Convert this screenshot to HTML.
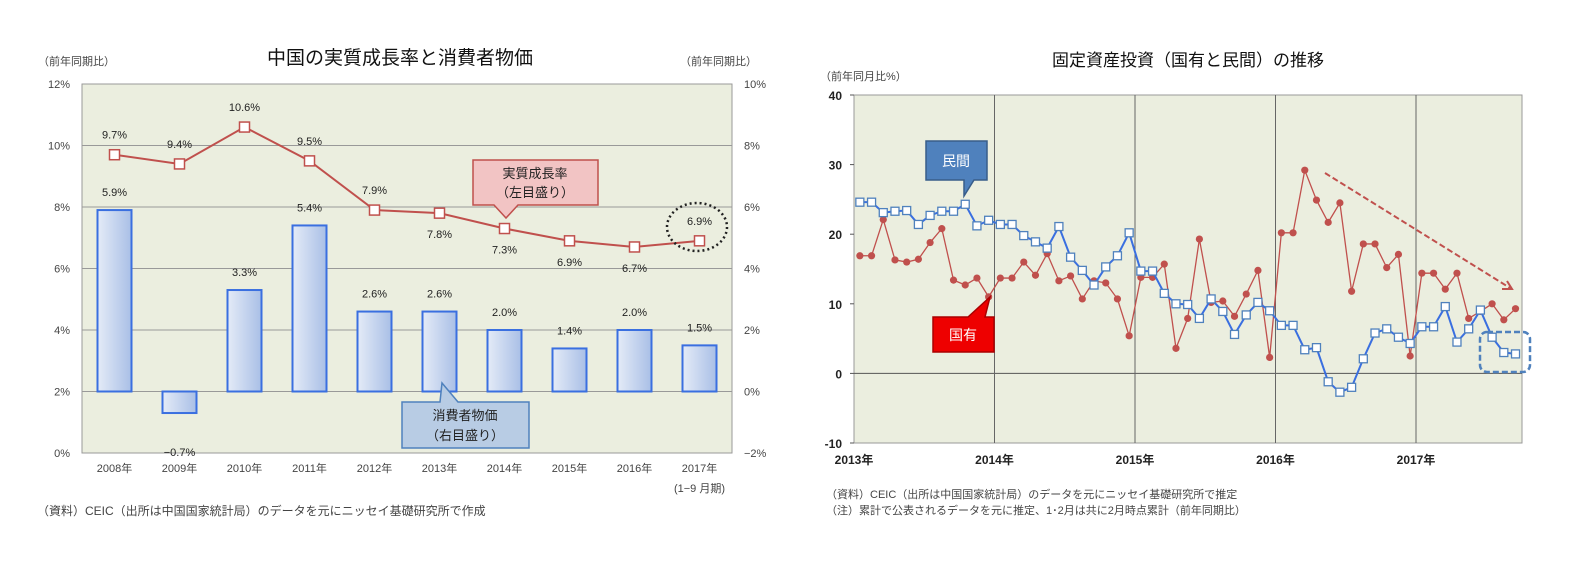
<!DOCTYPE html>
<html><head><meta charset="utf-8">
<style>
body{margin:0;background:#fff;width:1570px;height:562px;overflow:hidden;font-family:"Liberation Sans","Noto Sans CJK JP",sans-serif}
svg text{font-family:"Liberation Sans","Noto Sans CJK JP",sans-serif}
</style></head>
<body>
<svg id="s" width="1570" height="562">
<!-- Left chart -->
<g>
<text x="400" y="64" font-size="19" text-anchor="middle" fill="#111">中国の実質成長率と消費者物価</text>
<text x="38" y="65" font-size="11" fill="#444">（前年同期比）</text>
<text x="680" y="65" font-size="11" fill="#444">（前年同期比）</text>
<rect x="82" y="84" width="650" height="369" fill="#ebeedf" stroke="#999"/>
<g id="lgrid"></g><g id="lbars"></g><g id="lline"></g><g id="llabels"></g>
<text x="37" y="515" font-size="12" fill="#444">（資料）CEIC（出所は中国国家統計局）のデータを元にニッセイ基礎研究所で作成</text>
<g>
<path d="M473 160 H598 V205 H518 L506 218 L494 205 H473 Z" fill="#f2c4c4" stroke="#c0504d" stroke-width="1.5"/>
<text x="535" y="178" font-size="13" text-anchor="middle" fill="#222">実質成長率</text>
<text x="535" y="197" font-size="13" text-anchor="middle" fill="#222">（左目盛り）</text>
</g>
<g>
<path d="M402 402 H440 L442 383 L458 402 H529 V448 H402 Z" fill="#b8cce4" stroke="#4f81bd" stroke-width="1.5"/>
<text x="465" y="420" font-size="13" text-anchor="middle" fill="#222">消費者物価</text>
<text x="465" y="440" font-size="13" text-anchor="middle" fill="#222">（右目盛り）</text>
</g>
<ellipse cx="697" cy="227" rx="30" ry="24" fill="none" stroke="#222" stroke-width="2.5" stroke-dasharray="2,3"/>
</g>
<!-- Right chart -->
<g>
<text x="1188" y="66" font-size="17" text-anchor="middle" fill="#111">固定資産投資（国有と民間）の推移</text>
<text x="820" y="80" font-size="11" fill="#444">（前年同月比%）</text>
<rect x="854" y="95" width="668" height="348" fill="#ebeedf" stroke="#999"/>
<g id="rgrid"></g><g id="rlines"></g>
<path d="M1325 173 L1510 288" stroke="#c0504d" stroke-width="2" stroke-dasharray="6,3" fill="none"/>
<path d="M1502 289 L1512 289 L1507 281" stroke="#c0504d" stroke-width="2" fill="none"/>
<rect x="1480" y="332" width="50" height="40" rx="7" fill="none" stroke="#4f81bd" stroke-width="2.5" stroke-dasharray="6,3"/>
<g>
<path d="M926 141 H987 V180 H974 L964 196 L964 180 H926 Z" fill="#4f81bd" stroke="#385d8a" stroke-width="1.5"/>
<text x="956" y="166" font-size="14" text-anchor="middle" fill="#fff">民間</text>
</g>
<g>
<path d="M933 317 H968 L990 297 L985 317 H994 V352 H933 Z" fill="#e00" stroke="#a00" stroke-width="1.5"/>
<text x="963" y="340" font-size="14" text-anchor="middle" fill="#fff">国有</text>
</g>
<text x="826" y="498" font-size="11" fill="#444">（資料）CEIC（出所は中国国家統計局）のデータを元にニッセイ基礎研究所で推定</text>
<text x="826" y="514" font-size="11" fill="#444">（注）累計で公表されるデータを元に推定、1･2月は共に2月時点累計（前年同期比）</text>
</g>
</svg>
<script>
const years=["2008年","2009年","2010年","2011年","2012年","2013年","2014年","2015年","2016年","2017年"];
const gdp=[9.7,9.4,10.6,9.5,7.9,7.8,7.3,6.9,6.7,6.9];
const cpi=[5.9,-0.7,3.3,5.4,2.6,2.6,2.0,1.4,2.0,1.5];
const leftTicks=[0,2,4,6,8,10,12];
const rightTicks=[-2,0,2,4,6,8,10];
const ryears=["2013年","2014年","2015年","2016年","2017年"];
const rTicks=[-10,0,10,20,30,40];
const stateInv=[16.9,16.9,22.1,16.3,16.0,16.4,18.8,20.8,13.4,12.7,13.7,11.0,
13.7,13.7,16.0,14.1,17.2,13.3,14.0,10.7,13.3,13.0,10.7,5.4,
13.8,13.8,15.7,3.6,7.9,19.3,10.2,10.4,8.2,11.4,14.8,2.3,
20.2,20.2,29.2,24.9,21.7,24.5,11.8,18.6,18.6,15.2,17.1,2.5,
14.4,14.4,12.1,14.4,7.9,8.9,10.0,7.7,9.3];
const privInv=[24.6,24.6,23.1,23.3,23.4,21.4,22.7,23.3,23.3,24.3,21.2,22.0,
21.4,21.4,19.8,18.9,18.0,21.1,16.7,14.8,12.7,15.3,16.9,20.2,
14.7,14.7,11.5,10.0,9.9,7.9,10.7,8.9,5.6,8.4,10.2,9.0,
6.9,6.9,3.4,3.7,-1.2,-2.7,-2.0,2.1,5.8,6.4,5.2,4.3,
6.7,6.7,9.6,4.5,6.4,9.1,5.2,3.0,2.8];
const NS="http://www.w3.org/2000/svg";
function mk(p,t,a,txt){const e=document.createElementNS(NS,t);for(const k in a)e.setAttribute(k,a[k]);if(txt!==undefined)e.textContent=txt;p.appendChild(e);return e;}
// left scales
const L={x0:82,w:650,y0:453,y1:84};
const ly=v=>L.y0-(v/12)*(L.y0-L.y1);
const ry=v=>ly(v+2);
const cx=i=>L.x0+L.w/years.length*(i+0.5);
const lg=document.getElementById('lgrid');
leftTicks.forEach(t=>{const y=ly(t);
 if(t>0&&t<12){const g=mk(lg,'line',{x1:82,x2:732,y1:y,y2:y,stroke:'#999','stroke-width':1});}
 const tx=mk(lg,'text',{x:70,y:y+4,'font-size':11,'text-anchor':'end',fill:'#444'},t+'%');
 
 
});
rightTicks.forEach(t=>{const y=ry(t);
 const tx=mk(lg,'text',{x:744,y:y+4,'font-size':11,fill:'#444'},(t<0?'−':'')+Math.abs(t)+'%');
 
 
});
const defs=mk(document.getElementById('s'),'defs',{});
const gr=mk(defs,'linearGradient',{id:'bg',x1:0,y1:0,x2:1,y2:0});
mk(gr,'stop',{offset:'0','stop-color':'#e4ebf7'});mk(gr,'stop',{offset:'1','stop-color':'#a9bfe6'});
const lb=document.getElementById('lbars'),lab=document.getElementById('llabels');
years.forEach((yr,i)=>{
 const x=cx(i),y0=ry(0),y=ry(cpi[i]);
 const r=mk(lb,'rect',{x:x-17,y:Math.min(y,y0),width:34,height:Math.abs(y-y0),fill:'url(#bg)',stroke:'#3a6fe0','stroke-width':2});
 
 
 const ty=cpi[i]>=0?y-10:y+45;
 const t=mk(lab,'text',{x:x,y:cpi[i]>=0?y-14:y+43,'font-size':11,'text-anchor':'middle',fill:'#222'},(cpi[i]<0?'−':'')+Math.abs(cpi[i]).toFixed(1)+'%');
 
 
 const xt=mk(lab,'text',{x:x,y:472,'font-size':11,'text-anchor':'middle',fill:'#444'},yr);
 
 
});
mk(lab,'text',{x:cx(9),y:492,'font-size':11,'text-anchor':'middle',fill:'#444'},'(1−9 月期)');
const ll=document.getElementById('lline');
const pl=mk(ll,'polyline',{points:gdp.map((v,i)=>cx(i)+','+ly(v)).join(' '),fill:'none',stroke:'#c0504d','stroke-width':2});


gdp.forEach((v,i)=>{
 const m=mk(ll,'rect',{x:cx(i)-5,y:ly(v)-5,width:10,height:10,fill:'#fff',stroke:'#c0504d','stroke-width':1.5});
 
 
 const above=i<5||i==9;
 const t=mk(lab,'text',{x:cx(i),y:above?ly(v)-16:ly(v)+25,'font-size':11,'text-anchor':'middle',fill:'#222'},v.toFixed(1)+'%');
 
 
});
// right chart
const R={x0:854,x1:1522,y0:443,y1:95};
const yearW=140.5,mW=yearW/12;
const rY=v=>R.y0-(v+10)/50*(R.y0-R.y1);
const rX=i=>R.x0+mW*(i+0.5);
const rg=document.getElementById('rgrid');
rTicks.forEach(t=>{const y=rY(t);
 if(t===0){const g=mk(rg,'line',{x1:R.x0,x2:R.x1,y1:y,y2:y,stroke:'#555','stroke-width':1});}
 mk(rg,'line',{x1:R.x0-4,x2:R.x0,y1:y,y2:y,stroke:'#555'});
 const tx=mk(rg,'text',{x:842,y:y+5,'font-size':12,'text-anchor':'end',fill:'#222','font-weight':'bold'},t);
 
 
});
ryears.forEach((yr,i)=>{const x=R.x0+yearW*i;
 if(i>0){const g=mk(rg,'line',{x1:x,x2:x,y1:R.y1,y2:R.y0,stroke:'#666','stroke-width':1});}
 const tx=mk(rg,'text',{x:x,y:464,'font-size':12,'text-anchor':'middle',fill:'#222','font-weight':'bold'},yr);
 
 
});
const rl=document.getElementById('rlines');
const sl=mk(rl,'polyline',{points:stateInv.map((v,i)=>rX(i)+','+rY(v)).join(' '),fill:'none',stroke:'#c0504d','stroke-width':1.3});


stateInv.forEach((v,i)=>{const c=mk(rl,'circle',{cx:rX(i),cy:rY(v),r:3.6,fill:'#c0504d'});
 
 });
const pv=mk(rl,'polyline',{points:privInv.map((v,i)=>rX(i)+','+rY(v)).join(' '),fill:'none',stroke:'#3a6fe0','stroke-width':2});


privInv.forEach((v,i)=>{const c=mk(rl,'rect',{x:rX(i)-4,y:rY(v)-4,width:8,height:8,fill:'#fff',stroke:'#4f81bd','stroke-width':1.3});
 
 });
</script>
</body></html>
